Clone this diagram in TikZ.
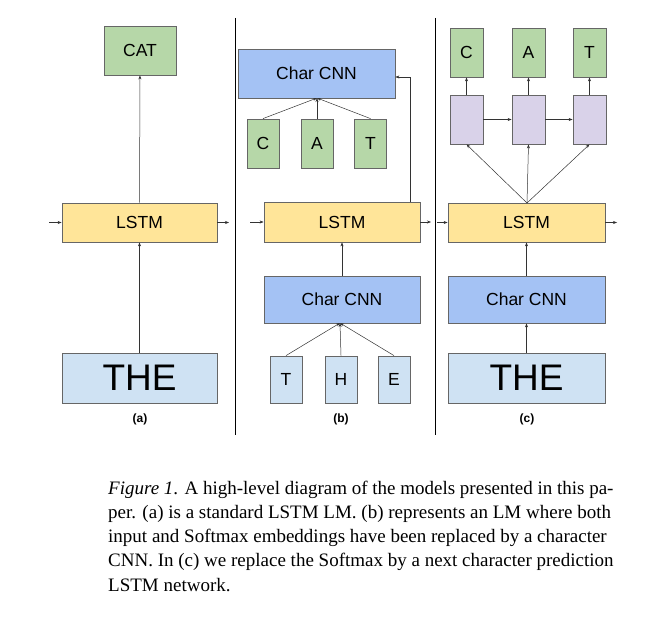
\documentclass[tikz,border=0pt]{standalone}
\usepackage{fontspec}
\setmainfont{Liberation Serif}
\newfontfamily\arial{Liberation Sans}
\usetikzlibrary{arrows.meta}
\definecolor{cgreen}{HTML}{B6D7A8}
\definecolor{cyellow}{HTML}{FFE599}
\definecolor{cblue}{HTML}{A4C2F4}
\definecolor{clblue}{HTML}{CFE2F3}
\definecolor{cpurple}{HTML}{D9D2E9}
\definecolor{cborder}{HTML}{666666}
\begin{document}
\begin{tikzpicture}[x=1pt,y=-1pt,
 box/.style={draw=cborder,line width=0.8pt,font=\arial\fontsize{17.5}{20}\selectfont},
 arr/.style={-{Stealth[length=4pt,width=3pt]},line width=0.5pt,color=black!80},
 captext/.style={anchor=base west,inner sep=0pt,font=\fontsize{19}{22}\selectfont}]
\useasboundingbox (0,0) rectangle (653,623);
\draw[line width=0.7pt] (235,18) -- (235,435) (435,18) -- (435,435);
% panel a
\node[box,fill=cgreen,minimum width=72,minimum height=49] (acat) at (140,50.5) {CAT};
\node[box,fill=cyellow,minimum width=155,minimum height=39] (alstm) at (139.5,222.5) {LSTM};
\node[box,fill=clblue,minimum width=155,minimum height=50,font=\arial\fontsize{37}{40}\selectfont] (athe) at (139.5,378) {THE};
\node[font=\arial\bfseries\fontsize{12}{14}\selectfont] (la) at (140,419) {(a)};
\coordinate (ain) at (49,222.5); \coordinate (aout) at (229,222.5);
\draw[arr] (athe) -- (alstm); \draw[arr] (alstm) -- (acat);
\draw[arr] (ain) -- (alstm); \draw[arr] (alstm) -- (aout);
% panel b
\node[box,fill=cblue,minimum width=157,minimum height=49] (bcnn1) at (316.5,73.5) {Char CNN};
\node[box,fill=cgreen,minimum width=32,minimum height=49] (bc) at (263,143.5) {C};
\node[box,fill=cgreen,minimum width=32,minimum height=49] (ba) at (317,143.5) {A};
\node[box,fill=cgreen,minimum width=32,minimum height=49] (bt) at (370.5,143.5) {T};
\node[box,fill=cyellow,minimum width=156,minimum height=40] (blstm) at (342,222) {LSTM};
\node[box,fill=cblue,minimum width=156,minimum height=47] (bcnn2) at (342,299.5) {Char CNN};
\node[box,fill=clblue,minimum width=32,minimum height=47] (bth) at (286,379.5) {T};
\node[box,fill=clblue,minimum width=32,minimum height=47] (bh) at (341,379.5) {H};
\node[box,fill=clblue,minimum width=32,minimum height=47] (be) at (394,379.5) {E};
\node[font=\arial\bfseries\fontsize{12}{14}\selectfont] (lb) at (341,419) {(b)};
\coordinate (bin) at (250,222); \coordinate (bout) at (431,222);
\coordinate (bc1) at (317,98); \coordinate (bc2) at (340,323);
\draw[arr] (bc.north) -- (bc1); \draw[arr] (ba.north) -- (bc1); \draw[arr] (bt.north) -- (bc1);
\draw[arr] (bth.north) -- (bc2); \draw[arr] (bh.north) -- (bc2); \draw[arr] (be.north) -- (bc2);
\draw[arr] (bcnn2) -- (blstm);
\draw[arr] (410,202) |- (bcnn1.east |- 0,77);
\draw[arr] (bin) -- (blstm); \draw[arr] (blstm) -- (bout);
% panel c
\foreach \n/\x/\t in {c/466.5/C,a/528.5/A,t/589.5/T}{
 \node[box,fill=cgreen,minimum width=33,minimum height=49] (co\n) at (\x,52.5) {\t};
 \node[box,fill=cpurple,minimum width=33,minimum height=49] (cp\n) at (\x,119.5) {};
 \draw[arr] (cp\n) -- (co\n);
}
\draw[arr] (cpc) -- (cpa); \draw[arr] (cpa) -- (cpt);
\node[box,fill=cyellow,minimum width=157,minimum height=39] (clstm) at (526.5,222.5) {LSTM};
\node[box,fill=cblue,minimum width=157,minimum height=47] (ccnn) at (526.5,299.5) {Char CNN};
\node[box,fill=clblue,minimum width=157,minimum height=50,font=\arial\fontsize{37}{40}\selectfont] (cthe) at (526.5,378) {THE};
\node[font=\arial\bfseries\fontsize{12}{14}\selectfont] (lc) at (527,419) {(c)};
\coordinate (cs) at (527,203);
\draw[arr] (cs) -- (cpc.south); \draw[arr] (cs) -- (cpa.south); \draw[arr] (cs) -- (cpt.south);
\draw[arr] (cthe) -- (ccnn); \draw[arr] (ccnn) -- (clstm);
\coordinate (cin) at (437,222.5); \coordinate (cout) at (617,222.5);
\draw[arr] (cin) -- (clstm); \draw[arr] (clstm) -- (cout);
% caption
\node[captext] (t1) at (108,494) {\textit{Figure 1}. A high-level diagram of the models presented in this pa-};
\node[captext] (t2) at (108,518) {per. (a) is a standard LSTM LM. (b) represents an LM where both};
\node[captext] (t3) at (108,542) {input and Softmax embeddings have been replaced by a character};
\node[captext] (t4) at (108,566) {CNN. In (c) we replace the Softmax by a next character prediction};
\node[captext] (t5) at (108,591) {LSTM network.};
\end{tikzpicture}
\end{document}
